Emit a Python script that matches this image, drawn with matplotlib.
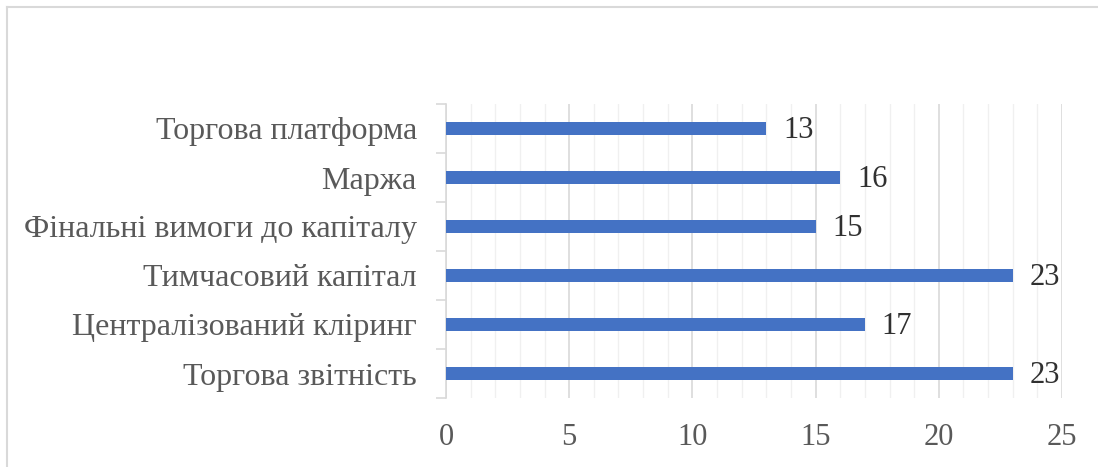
import matplotlib
matplotlib.use('Agg')
import matplotlib.pyplot as plt
from matplotlib.lines import Line2D
from matplotlib.ticker import MultipleLocator, NullFormatter

# Survey results, listed top to bottom
categories = [
    'Торгова платформа',
    'Маржа',
    'Фінальні вимоги до капіталу',
    'Тимчасовий капітал',
    'Централізований кліринг',
    'Торгова звітність',
]
values = [13, 16, 15, 23, 17, 23]
x_ticks = [0, 5, 10, 15, 20, 25]

bar_color = '#4472C4'
label_color = '#595959'
value_color = '#303030'
grid_color = '#d9d9d9'

plt.rcParams['font.family'] = ['Liberation Serif', 'DejaVu Serif']

fig = plt.figure(figsize=(10.98, 4.67), dpi=100, facecolor='white')
ax = fig.add_axes([446 / 1098, 1 - 398 / 467, (1062 - 446) / 1098, (398 - 104) / 467])

pos = list(range(len(categories)))
ax.barh(pos, values, height=0.28, color=bar_color, zorder=3)

# value labels just right of each bar
for y, v in zip(pos, values):
    ax.annotate(str(v), xy=(v, y), xytext=(12, -1.5), textcoords='offset points',
                ha='left', va='center', fontsize=22, color=value_color)

ax.set_xlim(0, 25)
ax.set_ylim(len(categories) - 0.5, -0.5)

ax.set_xticks(x_ticks)
ax.set_xticklabels([str(t) for t in x_ticks])
ax.xaxis.set_minor_locator(MultipleLocator(1))
ax.tick_params(axis='x', which='both', length=0, pad=18, labelsize=22, labelcolor=label_color)
ax.grid(axis='x', which='major', color=grid_color, linewidth=1.2, zorder=0)
ax.grid(axis='x', which='minor', color='#f0f0f0', linewidth=1.0, zorder=0)

# category labels centred, tick marks on the boundaries between categories
ax.set_yticks(pos)
ax.set_yticklabels(categories)
ax.set_yticks([p - 0.5 for p in pos] + [len(categories) - 0.5], minor=True)
ax.yaxis.set_minor_formatter(NullFormatter())
ax.tick_params(axis='y', which='major', length=0, pad=21, labelsize=23, labelcolor=label_color)
ax.tick_params(axis='y', which='minor', length=7, width=1.2, color=grid_color)

for side in ['top', 'right', 'bottom']:
    ax.spines[side].set_visible(False)
ax.spines['left'].set_color(grid_color)
ax.spines['left'].set_linewidth(1.2)

# chart frame (top and left edges)
fx = 7 / 1098
fy = 1 - 7 / 467
fig.add_artist(Line2D([fx, 1], [fy, fy], transform=fig.transFigure, color=grid_color, lw=1.5))
fig.add_artist(Line2D([fx, fx], [0, fy], transform=fig.transFigure, color=grid_color, lw=1.5))

fig.savefig('out.png', dpi=100, facecolor='white')
